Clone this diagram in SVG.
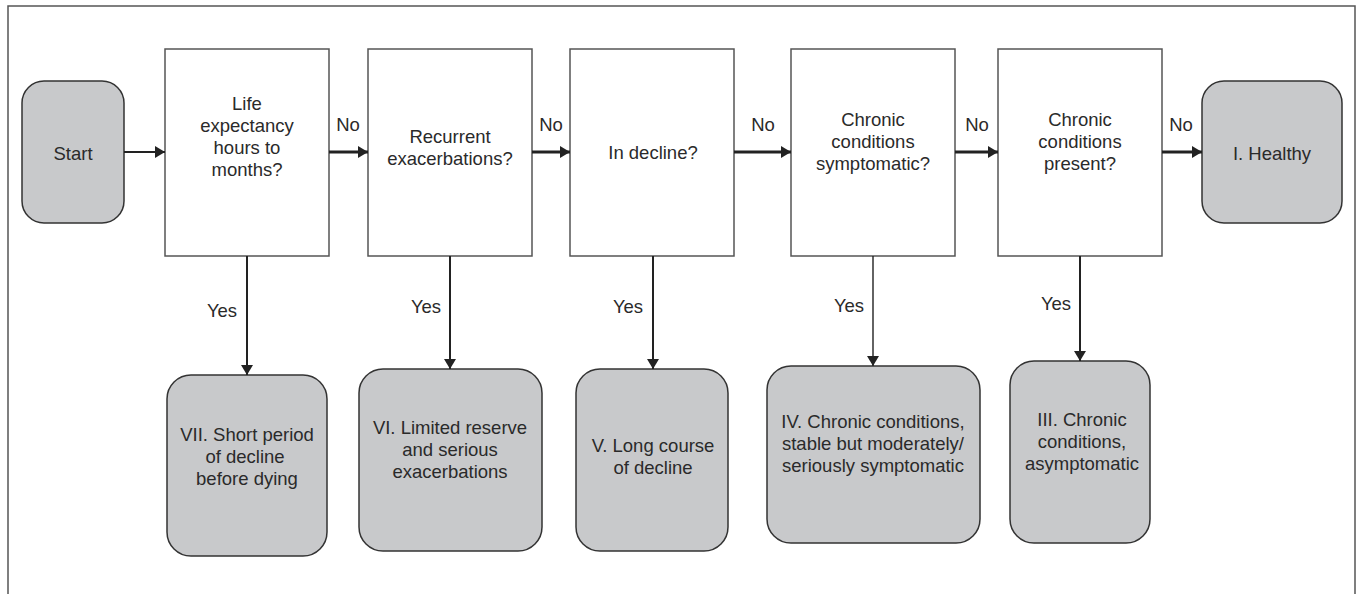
<svg xmlns="http://www.w3.org/2000/svg" width="1358" height="594" viewBox="0 0 1358 594">
<style>
  .frame{fill:none;stroke:#555;stroke-width:1.5}
  .q{fill:#fff;stroke:#555;stroke-width:1.5}
  .t{fill:#c8c9cb;stroke:#333;stroke-width:1.5}
  text{font-family:"Liberation Sans",Arial,sans-serif;font-size:18.5px;fill:#2a2a2a;text-anchor:middle}
  .c{fill:none;stroke:#222}
  .h{stroke-width:3}
  .v{stroke-width:2}
</style>
<defs>
  <marker id="ah" viewBox="0 0 10 12" refX="10" refY="6" markerWidth="10" markerHeight="12" markerUnits="userSpaceOnUse" orient="auto">
    <path d="M0,0 L10,6 L0,12 Z" fill="#222"/>
  </marker>
</defs>
<rect class="frame" x="8" y="6" width="1347" height="600"/>
<g id="start"><rect class="t" x="22" y="81" width="102" height="142" rx="22"/><text x="73" y="160">Start</text></g>
<g id="q1"><rect class="q" x="165" y="49" width="164" height="207"/><text x="247" y="110">Life</text><text x="247" y="132">expectancy</text><text x="247" y="154">hours to</text><text x="247" y="176">months?</text></g>
<g id="q2"><rect class="q" x="368" y="49" width="164" height="207"/><text x="450" y="143">Recurrent</text><text x="450" y="165">exacerbations?</text></g>
<g id="q3"><rect class="q" x="570" y="49" width="164" height="207"/><text x="653" y="159">In decline?</text></g>
<g id="q4"><rect class="q" x="791" y="49" width="164" height="207"/><text x="873" y="126">Chronic</text><text x="873" y="148">conditions</text><text x="873" y="170">symptomatic?</text></g>
<g id="q5"><rect class="q" x="998" y="49" width="164" height="207"/><text x="1080" y="126">Chronic</text><text x="1080" y="148">conditions</text><text x="1080" y="170">present?</text></g>
<g id="healthy"><rect class="t" x="1202" y="81" width="140" height="142" rx="22"/><text x="1272" y="160">I. Healthy</text></g>
<g id="vii"><rect class="t" x="167" y="375" width="160" height="181" rx="24"/><text x="247" y="441">VII. Short period</text><text x="245" y="463">of decline</text><text x="247" y="485">before dying</text></g>
<g id="vi"><rect class="t" x="359" y="369" width="183" height="182" rx="24"/><text x="450" y="434">VI. Limited reserve</text><text x="450" y="456">and serious</text><text x="450" y="478">exacerbations</text></g>
<g id="v"><rect class="t" x="576" y="369" width="152" height="182" rx="24"/><text x="653" y="452">V. Long course</text><text x="653" y="474">of decline</text></g>
<g id="iv"><rect class="t" x="767" y="366" width="213" height="177" rx="24"/><text x="873" y="428">IV. Chronic conditions,</text><text x="873" y="450">stable but moderately/</text><text x="873" y="472">seriously symptomatic</text></g>
<g id="iii"><rect class="t" x="1010" y="361" width="140" height="182" rx="24"/><text x="1082" y="426">III. Chronic</text><text x="1082" y="448">conditions,</text><text x="1082" y="470">asymptomatic</text></g>
<g id="connectors">
  <line class="c" x1="124" y1="152" x2="165" y2="152" stroke-width="1.8" marker-end="url(#ah)"/>
  <line class="c h" x1="329" y1="152" x2="368" y2="152" marker-end="url(#ah)"/>
  <line class="c h" x1="532" y1="152" x2="570" y2="152" marker-end="url(#ah)"/>
  <line class="c h" x1="734" y1="152" x2="791" y2="152" marker-end="url(#ah)"/>
  <line class="c h" x1="955" y1="152" x2="998" y2="152" marker-end="url(#ah)"/>
  <line class="c h" x1="1162" y1="152" x2="1202" y2="152" marker-end="url(#ah)"/>
  <line class="c v" x1="247" y1="256" x2="247" y2="375" marker-end="url(#ah)"/>
  <line class="c v" x1="450" y1="256" x2="450" y2="369" marker-end="url(#ah)"/>
  <line class="c v" x1="653" y1="256" x2="653" y2="369" marker-end="url(#ah)"/>
  <line class="c" x1="873" y1="256" x2="873" y2="366" stroke-width="1.4" marker-end="url(#ah)"/>
  <line class="c v" x1="1080" y1="256" x2="1080" y2="361" marker-end="url(#ah)"/>
  <text x="348" y="131">No</text>
  <text x="551" y="131">No</text>
  <text x="763" y="131">No</text>
  <text x="977" y="131">No</text>
  <text x="1181" y="131">No</text>
  <text x="222" y="317">Yes</text>
  <text x="426" y="313">Yes</text>
  <text x="628" y="313">Yes</text>
  <text x="849" y="312">Yes</text>
  <text x="1056" y="310">Yes</text>
</g>
</svg>
